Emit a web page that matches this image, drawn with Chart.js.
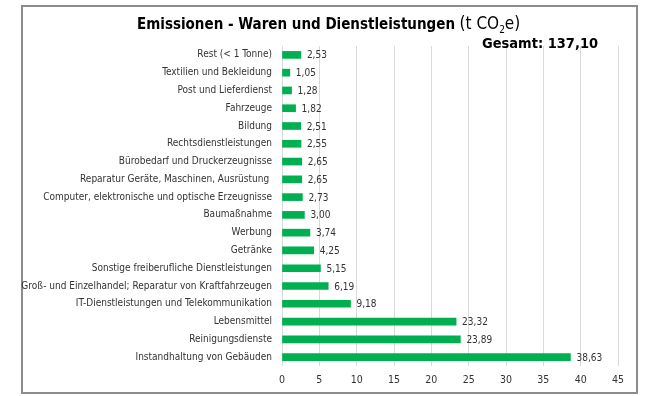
<!DOCTYPE html>
<html>
<head>
<meta charset="utf-8">
<script src="https://cdn.jsdelivr.net/npm/chart.js@4"></script>
<style>
  body { margin: 0; background: #fff; }
  #wrap { position: relative; width: 660px; height: 396px; font-family: 'DejaVu Sans Condensed', 'DejaVu Sans', sans-serif; }
  #frame { position: absolute; left: 21px; top: 5px; width: 613px; height: 385px; border: 2px solid #8c8c8c; box-sizing: content-box; }
  #title { position: absolute; left: 137px; top: 13px; white-space: nowrap; color: #000; }
  #title b { font-size: 15px; font-weight: bold; }
  #title span { font-size: 17px; }
  #total { position: absolute; left: 482px; top: 35px; font-size: 14.5px; font-weight: bold; color: #000; white-space: nowrap; }
  canvas { position: absolute; left: 0; top: 0; }
</style>
</head>
<body>
<div id="wrap">
  <div id="frame"></div>
  <canvas id="chart" width="660" height="396"></canvas>
  <div id="title"><b>Emissionen - Waren und Dienstleistungen</b> <span>(t CO<sub style="font-size:10px">2</sub>e)</span></div>
  <div id="total">Gesamt: 137,10</div>
</div>
<script>
// Categories (top to bottom)
const categories = [
  'Rest (< 1 Tonne)',
  'Textilien und Bekleidung',
  'Post und Lieferdienst',
  'Fahrzeuge',
  'Bildung',
  'Rechtsdienstleistungen',
  'Bürobedarf und Druckerzeugnisse',
  'Reparatur Geräte, Maschinen, Ausrüstung ',
  'Computer, elektronische und optische Erzeugnisse',
  'Baumaßnahme',
  'Werbung',
  'Getränke',
  'Sonstige freiberufliche Dienstleistungen',
  'Groß- und Einzelhandel; Reparatur von Kraftfahrzeugen',
  'IT-Dienstleistungen und Telekommunikation',
  'Lebensmittel',
  'Reinigungsdienste',
  'Instandhaltung von Gebäuden'
];

// Emissions in t CO2e
const emissions = [2.53, 1.05, 1.28, 1.82, 2.51, 2.55, 2.65, 2.65, 2.73, 3.00, 3.74, 4.25, 5.15, 6.19, 9.18, 23.32, 23.89, 38.63];

const fontFamily = "'DejaVu Sans Condensed', 'DejaVu Sans', sans-serif";

// Draw value labels next to the bars
const valueLabels = {
  id: 'valueLabels',
  afterDatasetsDraw(chart) {
    const ctx = chart.ctx;
    const meta = chart.getDatasetMeta(0);
    ctx.save();
    ctx.font = '10px ' + fontFamily;
    ctx.fillStyle = '#333';
    ctx.textAlign = 'left';
    ctx.textBaseline = 'middle';
    meta.data.forEach((bar, i) => {
      const txt = emissions[i].toFixed(2).replace('.', ',');
      ctx.fillText(txt, bar.x + 6, bar.y + 1);
    });
    ctx.restore();
  }
};

new Chart(document.getElementById('chart'), {
  type: 'bar',
  data: {
    labels: categories,
    datasets: [{
      data: emissions,
      backgroundColor: '#00b050',
      barThickness: 7
    }]
  },
  options: {
    indexAxis: 'y',
    responsive: false,
    animation: false,
    layout: { padding: { top: 46, right: 42, bottom: 0, left: 0 } },
    plugins: {
      legend: { display: false },
      tooltip: { enabled: false }
    },
    scales: {
      x: {
        min: 0,
        max: 45,
        ticks: { stepSize: 5, color: '#333', padding: 8, font: { family: fontFamily, size: 10.5 } },
        grid: { color: '#d9d9d9', drawTicks: false },
        border: { display: false },
        afterFit(scale) { scale.height = 30; }
      },
      y: {
        ticks: { color: '#333', padding: 10, font: { family: fontFamily, size: 10 } },
        grid: { display: false, drawTicks: false },
        border: { display: false },
        afterFit(scale) { scale.width = 282; }
      }
    }
  },
  plugins: [valueLabels]
});
</script>
</body>
</html>
